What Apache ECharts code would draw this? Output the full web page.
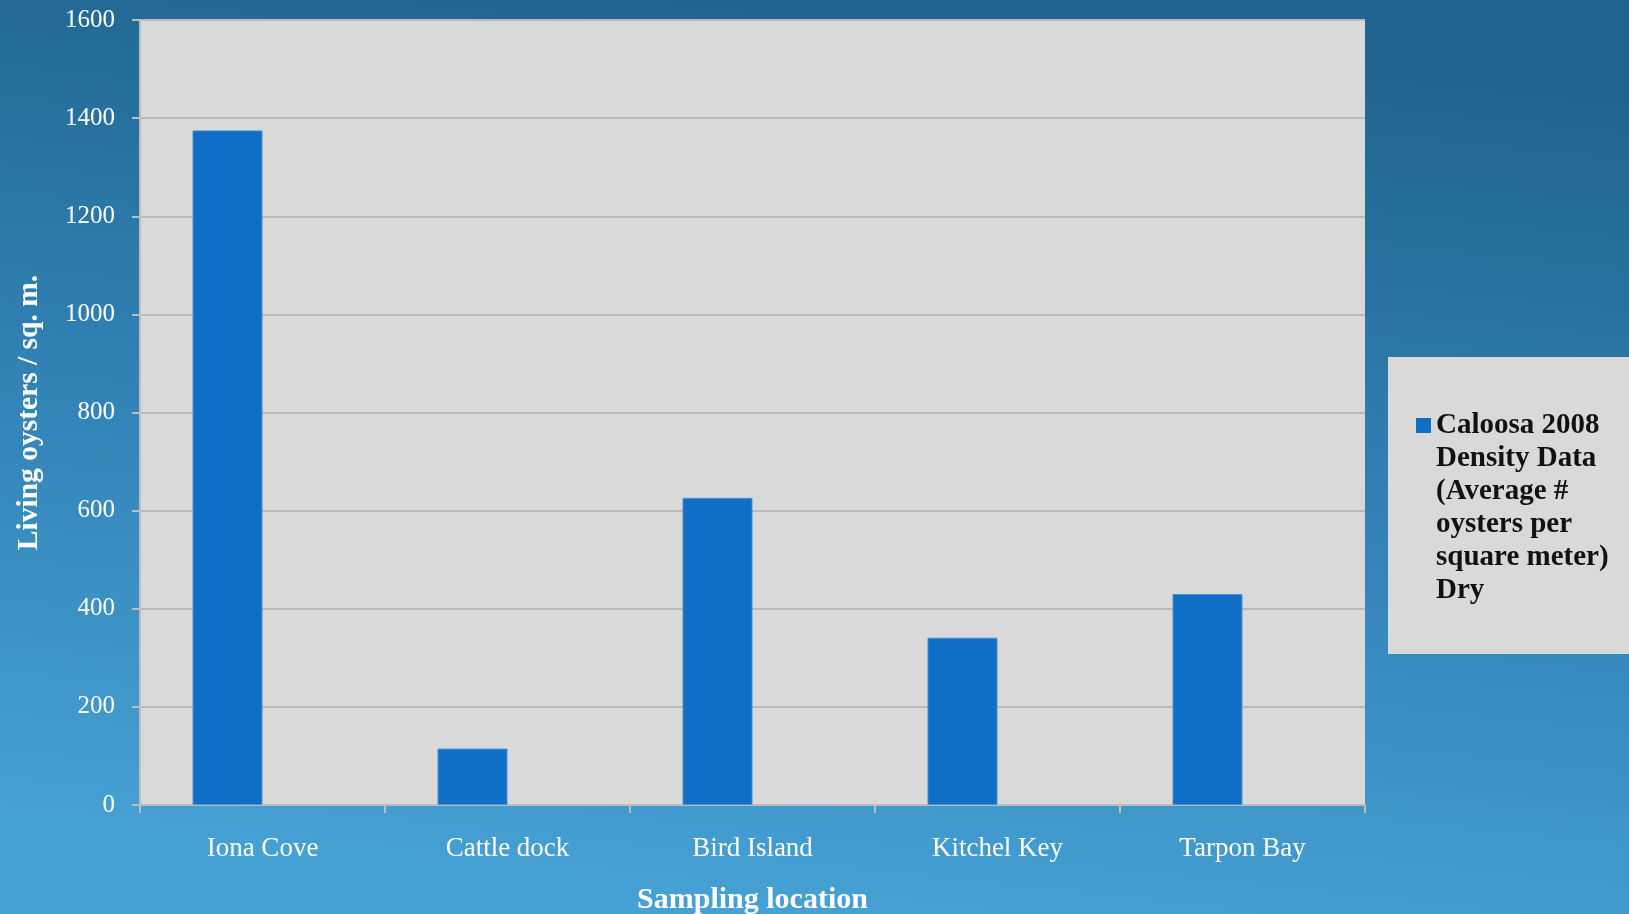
<!DOCTYPE html>
<html>
<head>
<meta charset="utf-8">
<script src="https://cdn.jsdelivr.net/npm/echarts@6/dist/echarts.min.js"></script>
<style>
  html, body { margin: 0; padding: 0; }
  #chart { width: 1629px; height: 914px; }
</style>
</head>
<body>
<div id="chart"></div>
<script>
// Sampling sites along the Caloosahatchee
const categories = ['Iona Cove', 'Cattle dock', 'Bird Island', 'Kitchel Key', 'Tarpon Bay'];
// Average living oysters per square metre, dry season 2008
const densityDry = [1375, 115, 626, 341, 430];
const seriesName = 'Caloosa 2008 Density Data (Average # oysters per square meter) Dry';
const legendLines = ['Caloosa 2008', 'Density Data', '(Average #', 'oysters per', 'square meter)', 'Dry'];
const yTicks = { min: 0, max: 1600, interval: 200 };

const SERIF = '"Liberation Serif", "DejaVu Serif", serif';
const AXIS_GREY = '#bdbdbd';

const chart = echarts.init(document.getElementById('chart'), null, { renderer: 'canvas' });

chart.setOption({
  backgroundColor: {
    type: 'linear', x: 0.53, y: 0, x2: 0.47, y2: 1,
    colorStops: [
      { offset: 0, color: '#1f648e' },
      { offset: 0.5, color: '#3282b6' },
      { offset: 1, color: '#46a1d4' }
    ]
  },
  animation: false,
  grid: {
    left: 140, right: 264, top: 20, bottom: 109,
    outerBoundsMode: 'none',
    show: true, backgroundColor: '#d9d9d9', borderWidth: 0
  },
  legend: {
    orient: 'vertical',
    left: 1388,
    top: 357,
    padding: [52, 40, 47, 28],
    backgroundColor: '#d9d9d9',
    data: [seriesName],
    itemWidth: 15,
    itemHeight: 198,
    // square marker sits beside the first line of the wrapped label
    icon: 'path://M0,0h0.01v0.01h-0.01z M0,9h15v15h-15z M0,197.99h0.01v0.01h-0.01z',
    itemStyle: { borderWidth: 0 },
    formatter: () => legendLines.join('\n'),
    textStyle: {
      fontFamily: SERIF,
      fontWeight: 'bold',
      fontSize: 29,
      lineHeight: 33,
      color: '#111'
    },
    selectedMode: false
  },
  xAxis: {
    type: 'category',
    data: categories,
    axisLine: { show: true, lineStyle: { color: AXIS_GREY, width: 2 } },
    axisTick: { show: true, length: 8, alignWithLabel: false, lineStyle: { color: AXIS_GREY, width: 2 } },
    axisLabel: { color: '#fff', fontFamily: SERIF, fontSize: 27, margin: 30 },
    splitLine: { show: false },
    name: 'Sampling location',
    nameLocation: 'middle',
    nameGap: 80,
    nameTextStyle: { color: '#fff', fontFamily: SERIF, fontWeight: 'bold', fontSize: 30 }
  },
  yAxis: {
    type: 'value',
    min: yTicks.min,
    max: yTicks.max,
    interval: yTicks.interval,
    axisLine: { show: true, lineStyle: { color: AXIS_GREY, width: 2 } },
    axisTick: { show: true, length: 8, lineStyle: { color: AXIS_GREY, width: 2 } },
    axisLabel: { color: '#fff', fontFamily: SERIF, fontSize: 25, margin: 25, formatter: (v) => String(v) },
    splitLine: { show: true, lineStyle: { color: '#bababa', width: 2 } },
    name: 'Living oysters / sq. m.',
    nameLocation: 'middle',
    nameRotate: 90,
    nameGap: 96,
    nameTextStyle: { color: '#fff', fontFamily: SERIF, fontWeight: 'bold', fontSize: 29.5 }
  },
  series: [
    {
      name: seriesName,
      type: 'bar',
      data: densityDry,
      barGap: '0%',
      barCategoryGap: '42.86%',
      itemStyle: { color: '#0f6fc6', borderColor: '#4f8fcf', borderWidth: 1 }
    },
    {
      // second slot of each category group is left empty
      name: 'wet',
      type: 'bar',
      data: [],
      barGap: '0%',
      barCategoryGap: '42.86%'
    }
  ]
});
</script>
</body>
</html>
